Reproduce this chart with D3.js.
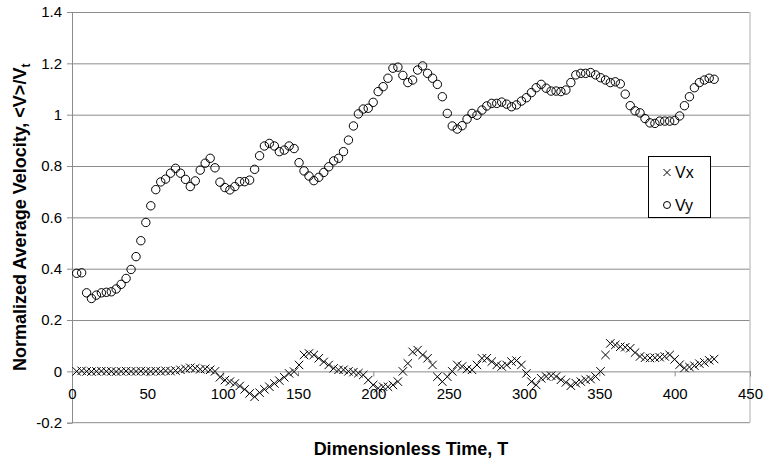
<!DOCTYPE html>
<html><head><meta charset="utf-8">
<script src="https://cdn.jsdelivr.net/npm/d3@7/dist/d3.min.js"></script>
<style>body{margin:0;background:#fff}svg{display:block;font-family:"Liberation Sans",Arial,sans-serif}</style>
</head><body><svg id="c" width="764" height="462"></svg>
<script>
const T = [3.1,6.4,9.7,12.9,16.2,19.5,22.8,26.1,29.3,32.6,35.9,39.2,42.5,45.7,49.0,52.3,55.6,58.9,62.1,65.4,
68.7,72.0,75.3,78.5,81.8,85.1,88.4,91.7,94.9,98.2,101.5,104.8,108.1,111.3,114.6,117.9,121.2,124.5,127.7,131.0,
134.3,137.6,140.9,144.1,147.4,150.7,154.0,157.3,160.5,163.8,167.1,170.4,173.7,176.9,180.2,183.5,186.8,190.1,193.3,196.6,
199.9,203.2,206.5,209.7,213.0,216.3,219.6,222.9,226.1,229.4,232.7,236.0,239.3,242.5,245.8,249.1,252.4,255.7,258.9,262.2,
265.5,268.8,272.1,275.3,278.6,281.9,285.2,288.5,291.7,295.0,298.3,301.6,304.9,308.1,311.4,314.7,318.0,321.3,324.5,327.8,
331.1,334.4,337.7,340.9,344.2,347.5,350.8,354.1,357.3,360.6,363.9,367.2,370.5,373.7,377.0,380.3,383.6,386.9,390.1,393.4,
396.7,400.0,403.3,406.5,409.8,413.1,416.4,419.7,422.9,426.2];

const Vy = [0.382,0.384,0.306,0.284,0.297,0.306,0.308,0.31,0.321,0.339,0.362,0.397,0.447,0.509,0.58,0.645,0.708,0.738,0.749,0.772,
0.791,0.772,0.748,0.72,0.742,0.784,0.811,0.83,0.793,0.737,0.716,0.707,0.72,
0.739,0.739,0.745,0.787,0.84,0.878,0.888,0.878,0.856,0.862,0.878,0.868,0.813,0.781,0.761,0.743,0.756,0.775,0.797,0.82,0.83,0.856,
0.901,0.956,1.003,1.022,1.025,1.048,1.09,1.109,1.142,1.181,1.185,1.153,1.125,1.135,1.174,
1.19,1.161,1.142,1.118,1.07,1.005,0.956,0.944,0.957,0.983,1.005,0.998,1.018,1.034,1.044,1.044,1.049,1.041,1.031,1.038,
1.053,1.066,1.086,1.105,1.118,1.103,1.092,1.092,1.09,1.096,1.125,1.155,1.161,1.161,1.164,1.155,1.144,1.135,1.125,
1.128,1.12,1.08,1.035,1.015,1.007,0.985,0.968,0.966,0.975,0.975,0.975,0.977,0.995,1.035,1.07,1.105,1.125,1.135,1.142,1.138];

const Vx = [0,0.002,0,-0.001,0,0.001,0,0,-0.001,0,0.001,0,0,0.001,0,0,0.001,0,0.002,0.001,
0.003,0.006,0.01,0.014,0.012,0.008,0.01,0.006,0.0,
-0.023,-0.034,-0.04,-0.047,-0.057,-0.07,-0.086,-0.099,-0.083,-0.07,-0.06,-0.047,-0.036,-0.023,-0.008,-0.001,0.025,0.064,0.07,0.064,
0.051,0.037,0.025,0.012,0.006,0.006,
0.0,-0.003,-0.007,-0.014,-0.034,-0.053,-0.066,-0.06,-0.06,-0.053,-0.04,0.0,0.031,0.076,0.083,0.064,0.051,0.025,-0.021,-0.04,
-0.021,0,0.025,0.019,0.009,0.006,0.025,0.051,0.051,0.038,0.025,0.019,0.025,0.038,0.042,0.025,-0.008,-0.04,-0.053,
-0.027,-0.02,-0.017,-0.02,-0.033,-0.043,-0.056,-0.046,-0.04,-0.033,-0.03,-0.02,0.0,0.064,0.109,0.103,0.096,0.094,0.09,0.073,
0.058,0.053,0.052,0.053,0.055,0.058,0.064,0.047,0.026,0.013,0.017,0.022,0.03,0.035,0.043,0.048];

const xTicks = [0,50,100,150,200,250,300,350,400,450];
const yTicks = [-0.2,0,0.2,0.4,0.6,0.8,1,1.2,1.4];
const seriesNames = ["Vx","Vy"];
const xTitle = "Dimensionless Time, T";

const svg = d3.select("#c");
const L = 72, R = 750, TOP = 12, B = 422.7;
const x = d3.scaleLinear().domain([0,450]).range([L,R]);
const y = d3.scaleLinear().domain([-0.2,1.4]).range([B,TOP]);

// gridlines
svg.append("g").selectAll("line").data(yTicks.filter(d=>d>0)).join("line")
  .attr("x1",L).attr("x2",R).attr("y1",d=>y(d)+0.5).attr("y2",d=>y(d)+0.5)
  .attr("stroke","#8c8c8c").attr("stroke-width",1);
// frame: bottom and right
svg.append("line").attr("x1",L).attr("x2",R).attr("y1",B).attr("y2",B).attr("stroke","#8c8c8c");
svg.append("line").attr("x1",R).attr("x2",R).attr("y1",TOP).attr("y2",B).attr("stroke","#c8c8c8").attr("stroke-width",1.5);

// y axis
const fmt = d => (Math.round(d*10)/10).toString();
const ya = svg.append("g").attr("transform",`translate(${L},0)`)
  .call(d3.axisLeft(y).tickValues(yTicks).tickFormat(fmt).tickSize(5).tickPadding(5));
ya.select(".domain").attr("stroke","#8c8c8c");
ya.selectAll(".tick line").attr("stroke","#8c8c8c");
ya.selectAll("text").attr("font-size",15).attr("fill","#000").attr("font-family","Liberation Sans, Arial, sans-serif");

// x axis at y=0
const xa = svg.append("g").attr("transform",`translate(0,${y(0)})`)
  .call(d3.axisBottom(x).tickValues(xTicks).tickFormat(d=>d).tickSize(5).tickPadding(12));
xa.select(".domain").attr("stroke","#8c8c8c");
xa.selectAll(".tick line").attr("stroke","#8c8c8c");
xa.selectAll("text").attr("font-size",15).attr("fill","#000").attr("font-family","Liberation Sans, Arial, sans-serif");

const data = T.map((t,i)=>({t, vx:Vx[i], vy:Vy[i]}));

// Vy circles
svg.append("g").selectAll("circle").data(data).join("circle")
  .attr("cx",d=>x(d.t)).attr("cy",d=>y(d.vy)).attr("r",4.2)
  .attr("fill","none").attr("stroke","#000").attr("stroke-width",1);

// Vx crosses
const cross = (cx,cy,s)=>`M${cx-s},${cy-s}L${cx+s},${cy+s}M${cx-s},${cy+s}L${cx+s},${cy-s}`;
svg.append("g").selectAll("path").data(data).join("path")
  .attr("d",d=>cross(x(d.t),y(d.vx),4.2))
  .attr("stroke","#000").attr("stroke-width",1).attr("fill","none");

// axis titles
svg.append("text").attr("x",(L+R)/2).attr("y",455).attr("text-anchor","middle")
  .attr("font-size",18).attr("font-weight","bold").text(xTitle);
const yt = svg.append("text").attr("transform",`translate(26,${(TOP+B)/2}) rotate(-90)`)
  .attr("text-anchor","middle").attr("font-size",18).attr("font-weight","bold");
yt.append("tspan").text("Normalized Average Velocity, <V>/V");
yt.append("tspan").attr("font-size",12).attr("dy",4).text("t");

// legend
const lg = svg.append("g");
lg.append("rect").attr("x",648.5).attr("y",156.5).attr("width",62).attr("height",61)
  .attr("fill","#fff").attr("stroke","#000").attr("stroke-width",1);
lg.append("path").attr("d",cross(667,172.5,3.5)).attr("stroke","#000").attr("fill","none");
lg.append("circle").attr("cx",667).attr("cy",205).attr("r",3.5).attr("fill","none").attr("stroke","#000");
lg.selectAll("text.lt").data(seriesNames).join("text").attr("class","lt")
  .attr("x",675).attr("y",(d,i)=>i?210.5:178).attr("font-size",16).text(d=>d);
</script></body></html>
